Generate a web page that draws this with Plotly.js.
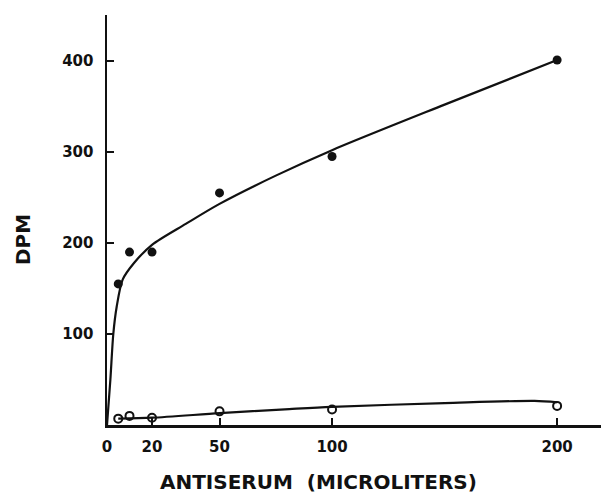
<!DOCTYPE html>
<html>
<head>
<meta charset="utf-8">
<script src="https://cdn.plot.ly/plotly-3.0.1.min.js"></script>
<style>html,body{margin:0;padding:0;background:#fff;}#chart{width:601px;height:501px;}</style>
</head>
<body>
<div id="chart"></div>
<script>
// Measured points
const antiserumX = [5, 10, 20, 50, 100, 200];
const specificDPM = [155, 190, 190, 255, 295, 401];
const controlDPM = [7, 10, 8, 15, 17, 21];

// Hand-drawn fitted curves
const fitUpperX = [0, 1.5, 2.8, 4.3, 7, 12, 20, 35, 50, 75, 100, 150, 200];
const fitUpperY = [0, 50, 100, 130, 160, 178, 198, 221, 243, 274, 302, 352, 401];
const fitLowerX = [5, 20, 50, 81, 100, 150, 190, 200];
const fitLowerY = [7, 8, 13, 17.5, 20, 24, 26.5, 25];

const xTicks = [0, 20, 50, 100, 200];
const yTicks = [100, 200, 300, 400];

const ink = '#111';
const fontFam = '"DejaVu Sans", "Liberation Sans", sans-serif';

const traces = [
  {x: fitUpperX, y: fitUpperY, mode: 'lines', line: {color: ink, width: 2.2, shape: 'spline', smoothing: 0.8}, hoverinfo: 'skip', showlegend: false},
  {x: fitLowerX, y: fitLowerY, mode: 'lines', line: {color: ink, width: 2.2, shape: 'spline', smoothing: 0.8}, hoverinfo: 'skip', showlegend: false},
  {x: antiserumX, y: specificDPM, mode: 'markers', marker: {symbol: 'circle', size: 9, color: ink}, showlegend: false},
  {x: antiserumX, y: controlDPM, mode: 'markers', marker: {symbol: 'circle-open', size: 8, color: ink, line: {width: 2, color: ink}}, showlegend: false}
];

const layout = {
  width: 601, height: 501,
  margin: {l: 107, r: 0, t: 15, b: 76},
  paper_bgcolor: '#fff', plot_bgcolor: '#fff',
  showlegend: false,
  xaxis: {
    range: [0, 219.5], showgrid: false, zeroline: false,
    showline: true, linecolor: ink, linewidth: 2.5,
    tickmode: 'array', tickvals: xTicks, ticktext: xTicks.map(String),
    ticks: 'inside', ticklen: 7, tickwidth: 2, tickcolor: ink,
    ticklabelstandoff: 6,
    tickfont: {family: fontFam, size: 15, color: ink, weight: 'bold'}
  },
  yaxis: {
    range: [0, 450.5], showgrid: false, zeroline: false,
    showline: true, linecolor: ink, linewidth: 2.5,
    tickmode: 'array', tickvals: yTicks, ticktext: yTicks.map(String),
    ticks: 'inside', ticklen: 7, tickwidth: 2, tickcolor: ink,
    ticklabelstandoff: 8,
    tickfont: {family: fontFam, size: 15, color: ink, weight: 'bold'}
  },
  annotations: [
    {text: 'DPM', xref: 'paper', yref: 'paper', x: (23 - 107) / 494, y: (425 - 240) / 410, xanchor: 'center', yanchor: 'middle',
     textangle: -90, showarrow: false, font: {family: fontFam, size: 20, color: ink, weight: 'bold'}},
    {text: 'ANTISERUM  (MICROLITERS)', xref: 'paper', yref: 'paper', x: (318 - 107) / 494, y: -0.14, xanchor: 'center', yanchor: 'middle',
     showarrow: false, font: {family: fontFam, size: 20, color: ink, weight: 'bold'}}
  ]
};

Plotly.newPlot('chart', traces, layout, {displayModeBar: false, staticPlot: true});
</script>
</body>
</html>
